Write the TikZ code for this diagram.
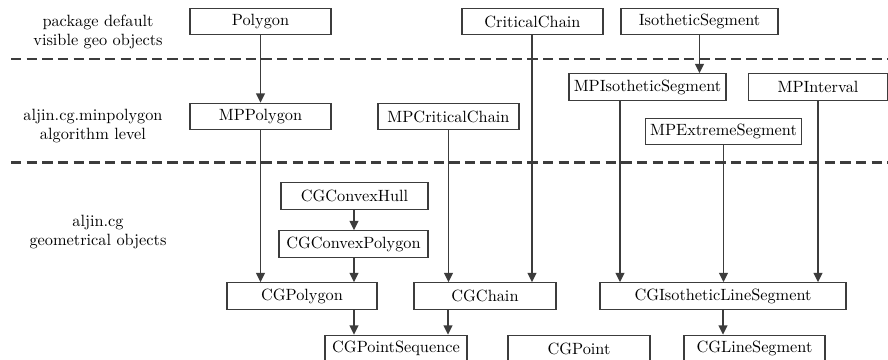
\documentclass[tikz,border=0pt]{standalone}
\usetikzlibrary{arrows.meta}
\definecolor{linegray}{HTML}{3C3C3C}
\tikzset{
  bx/.style={draw=linegray, line width=0.8pt, inner sep=0pt, minimum height=16.3pt, font=\normalsize},
  bw/.style={minimum width=#1*0.6135pt},
  arr/.style={draw=linegray, line width=0.8pt, -{Triangle[width=5.4pt,length=5.6pt]}},
  sep/.style={draw=linegray, line width=1.7pt, dash pattern=on 6.4pt off 3.2pt},
  lbl/.style={align=center, font=\normalsize, inner sep=0pt}
}
\begin{document}
\begin{tikzpicture}[x=0.6135pt, y=-0.6135pt]
\useasboundingbox (0,0) rectangle (888,360);

% separators
\coordinate (s1a) at (11,59);
\coordinate (s1b) at (888,59);
\coordinate (s2a) at (11,162.5);
\coordinate (s2b) at (888,162.5);
\draw[sep] (s1a) -- (s1b);
\draw[sep] (s2a) -- (s2b);

% left labels
\node[lbl] (l1) at (98,32) {package default\\visible geo objects};
\node[lbl] (l2) at (93,126) {aljin.cg.minpolygon\\algorithm level};
\node[lbl] (l3) at (98,232) {aljin.cg\\geometrical objects};

% top level
\node[bx, bw=141] (pd) at (260.5,21.5) {Polygon};
\node[bx, bw=141] (cc) at (532.5,21.5) {CriticalChain};
\node[bx, bw=157] (is) at (699.5,21.5) {IsotheticSegment};

% algorithm level
\node[bx, bw=157] (mpis) at (647.5,87) {MPIsotheticSegment};
\node[bx, bw=139] (mpint) at (818,87) {MPInterval};
\node[bx, bw=141] (mpp) at (260.5,116.5) {MPPolygon};
\node[bx, bw=141] (mpcc) at (448.5,116.5) {MPCriticalChain};
\node[bx, bw=156] (mpes) at (723.5,131.5) {MPExtremeSegment};

% geometry level
\node[bx, bw=147] (cghull) at (354.5,196) {CGConvexHull};
\node[bx, bw=149] (cgcp) at (353.5,244) {CGConvexPolygon};
\node[bx, bw=150] (cgp) at (302,296) {CGPolygon};
\node[bx, bw=142] (cgch) at (485,296) {CGChain};
\node[bx, bw=246] (cgils) at (723,296) {CGIsotheticLineSegment};
\node[bx, bw=142] (cgps) at (396,348.5) {CGPointSequence};
\node[bx, bw=142] (cgpt) at (579,348.5) {CGPoint};
\node[bx, bw=141] (cgls) at (754.5,348.5) {CGLineSegment};

% connectors
\draw[arr] (pd.south) -- (mpp.north);
\draw[arr] (is.south) -- (is.south |- mpis.north);
\draw[arr] (cc.south -| 532,0) -- (cgch.north -| 532,0);
\draw[arr] (mpp.south) -- (mpp.south |- cgp.north);
\draw[arr] (mpcc.south) -- (mpcc.south |- cgch.north);
\draw[arr] (mpis.south -| 620,0) -- (cgils.north -| 620,0);
\draw[arr] (mpes.south) -- (mpes.south |- cgils.north);
\draw[arr] (mpint.south) -- (mpint.south |- cgils.north);
\draw[arr] (cghull.south -| 354,0) -- (cgcp.north -| 354,0);
\draw[arr] (cgcp.south -| 354,0) -- (cgp.north -| 354,0);
\draw[arr] (cgp.south -| 354,0) -- (cgps.north -| 354,0);
\draw[arr] (cgch.south -| 448,0) -- (cgps.north -| 448,0);
\draw[arr] (cgils.south) -- (cgils.south |- cgls.north);
\end{tikzpicture}
\end{document}
